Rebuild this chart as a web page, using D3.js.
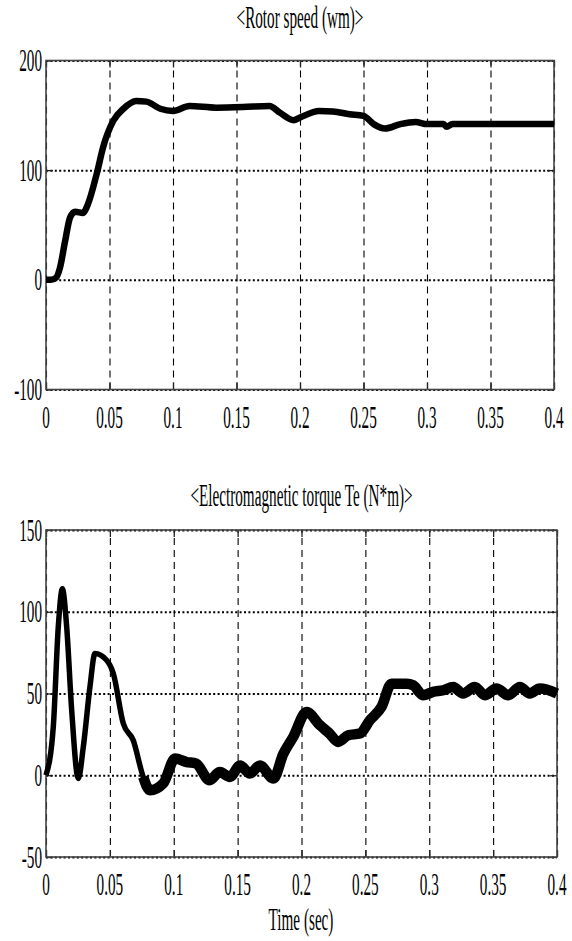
<!DOCTYPE html>
<html>
<head>
<meta charset="utf-8">
<script src="https://cdn.jsdelivr.net/npm/d3@7.9.0/dist/d3.min.js"></script>
<style>
  html, body { margin: 0; padding: 0; background: #fff; }
  svg { display: block; }
  text { font-family: "Liberation Serif", "Times New Roman", serif; fill: #000; }
</style>
</head>
<body>
<div id="chart"></div>
<script>
// time ticks shared by both plots
const timeTicks = [0, 0.05, 0.1, 0.15, 0.2, 0.25, 0.3, 0.35, 0.4];

// rotor speed (wm)
const speedTicks = [-100, 0, 100, 200];
const speedT = [0, 0.004, 0.008, 0.011, 0.015, 0.019, 0.023, 0.029, 0.033, 0.040, 0.045, 0.053, 0.061, 0.071,
  0.079, 0.090, 0.100, 0.113, 0.134, 0.155, 0.176, 0.184, 0.195, 0.200, 0.215, 0.226, 0.239, 0.250, 0.258,
  0.267, 0.279, 0.291, 0.300, 0.313, 0.3155, 0.320, 0.35, 0.4];
const speedV = [0, 0, 2, 11, 35, 57, 62, 61, 69, 97, 121, 145, 156, 163,
  162.5, 156, 154, 158.5, 157, 157.5, 158.5, 152.5, 145.5, 148, 154, 153.5, 151, 149.5, 142,
  138, 142, 144, 142, 142, 139.5, 142, 142, 142];

// electromagnetic torque Te (N*m)
const torqueTicks = [-50, 0, 50, 100, 150];
const torqueT = [0, 0.0057, 0.0096, 0.0128, 0.0162, 0.0201, 0.0253, 0.0292, 0.0344, 0.0383, 0.0475, 0.0527,
  0.0605, 0.0683, 0.0761, 0.0814, 0.0918, 0.101, 0.110, 0.1174, 0.128, 0.136, 0.144, 0.152, 0.1596, 0.1674,
  0.178, 0.1857, 0.1935, 0.204, 0.2144, 0.222, 0.2287, 0.2366, 0.2457, 0.2535, 0.2626, 0.2705, 0.2822,
  0.2874, 0.2952, 0.303, 0.311, 0.3187, 0.3265, 0.3357, 0.3435, 0.3527, 0.3618, 0.371, 0.3787, 0.3865, 0.4];
const torqueV = [0, 29.5, 90.7, 114, 90.7, 39.8, -2, 17.3, 54, 74.4, 70.3, 62.2,
  31.6, 21.4, -1, -9.2, -5, 10.2, 8.1, 7.2, -3, 2, -1, 6, 1, 6,
  -2, 13, 23.4, 38.7, 30.6, 25.5, 20.4, 24.5, 25.5, 33.6, 41.8, 56, 56,
  55, 49, 51, 52, 54, 50, 54, 49, 53, 49, 54, 50, 53, 50];

const width = 572;
const height = 941;
const SX = 0.76, SY = 1.6; // squeezed, stretched text like the picture

const svg = d3.select('#chart')
  .append('svg')
  .attr('width', width)
  .attr('height', height);

svg.append('rect').attr('width', width).attr('height', height).attr('fill', '#fff');

function label(g, txt, x, y, anchor) {
  g.append('text')
    .attr('transform', `translate(${x},${y}) scale(${SX},${SY})`)
    .attr('text-anchor', anchor)
    .attr('font-size', 20)
    .text(txt);
}

function renderPlot(opts) {
  const { left, right, top, bottom, yDomain, yTicks, t, v, title, titleY, noisyFrom } = opts;

  const x = d3.scaleLinear().domain([0, 0.4]).range([left, right]);
  const y = d3.scaleLinear().domain(yDomain).range([bottom, top]);
  const w = right - left;
  const h = bottom - top;

  const g = svg.append('g');

  // vertical dashed grid
  g.append('g')
    .attr('transform', `translate(0,${bottom})`)
    .call(d3.axisBottom(x).tickValues(timeTicks).tickSize(-h).tickFormat(''))
    .call(a => a.select('.domain').remove())
    .call(a => a.selectAll('line')
      .attr('stroke', '#000').attr('stroke-width', 1.1).attr('stroke-dasharray', '7,5'));

  // horizontal dotted grid
  g.append('g')
    .attr('transform', `translate(${left},0)`)
    .call(d3.axisLeft(y).tickValues(yTicks).tickSize(-w).tickFormat(''))
    .call(a => a.select('.domain').remove())
    .call(a => a.selectAll('line')
      .attr('stroke', '#000').attr('stroke-width', 2).attr('stroke-dasharray', '2,2.4'));

  // inward tick marks on all four sides
  const tick = 7;
  g.append('g').attr('transform', `translate(0,${bottom})`)
    .call(d3.axisBottom(x).tickValues(timeTicks).tickSize(-tick).tickFormat(''))
    .call(a => a.select('.domain').remove());
  g.append('g').attr('transform', `translate(0,${top})`)
    .call(d3.axisTop(x).tickValues(timeTicks).tickSize(-tick).tickFormat(''))
    .call(a => a.select('.domain').remove());
  g.append('g').attr('transform', `translate(${left},0)`)
    .call(d3.axisLeft(y).tickValues(yTicks).tickSize(-tick).tickFormat(''))
    .call(a => a.select('.domain').remove());
  g.append('g').attr('transform', `translate(${right},0)`)
    .call(d3.axisRight(y).tickValues(yTicks).tickSize(-tick).tickFormat(''))
    .call(a => a.select('.domain').remove());
  g.selectAll('.tick line').filter(function () { return !this.getAttribute('stroke-dasharray'); })
    .attr('stroke', '#222').attr('stroke-width', 1.3);

  // frame
  g.append('rect')
    .attr('x', left).attr('y', top).attr('width', w).attr('height', h)
    .attr('fill', 'none').attr('stroke', '#444').attr('stroke-width', 1.6);

  // curve
  const pts = t.map((d, i) => [d, v[i]]);
  const line = d3.line().x(d => x(d[0])).y(d => y(d[1])).curve(d3.curveMonotoneX);
  g.append('path')
    .attr('d', line(pts))
    .attr('fill', 'none').attr('stroke', '#000')
    .attr('stroke-width', opts.lineWidth)
    .attr('stroke-linejoin', 'round');
  if (noisyFrom != null) {
    g.append('path')
      .attr('d', line(pts.filter(d => d[0] >= noisyFrom)))
      .attr('fill', 'none').attr('stroke', '#000')
      .attr('stroke-width', opts.noisyWidth)
      .attr('stroke-linejoin', 'round');
  }

  // labels
  timeTicks.forEach(d => label(g, String(d), x(d), bottom + 38, 'middle'));
  yTicks.forEach(d => label(g, String(d), left - 4, y(d) + 10.5, 'end'));
  label(g, title, (left + right) / 2, titleY, 'middle');

  return g;
}

renderPlot({
  left: 46, right: 554, top: 60.5, bottom: 389.5,
  yDomain: [-100, 200], yTicks: speedTicks,
  t: speedT, v: speedV,
  title: '<Rotor speed (wm)>', titleY: 28,
  lineWidth: 6.5
});

const g2 = renderPlot({
  left: 46, right: 557, top: 530, bottom: 857,
  yDomain: [-50, 150], yTicks: torqueTicks,
  t: torqueT, v: torqueV,
  title: '<Electromagnetic torque Te (N*m)>', titleY: 506,
  lineWidth: 5.5, noisyFrom: 0.07, noisyWidth: 10.5
});

label(g2, 'Time (sec)', 301, 930, 'middle');
</script>
</body>
</html>
